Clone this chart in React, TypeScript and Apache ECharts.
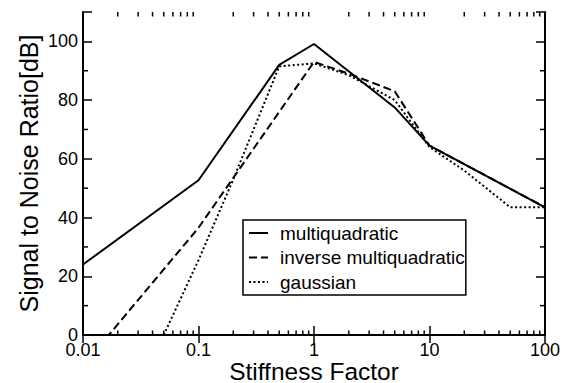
import React, { useEffect, useRef } from "react";
import * as echarts from "echarts";

// ---- data ----
const multiquadraticX = [0.01, 0.1, 0.5, 1, 5, 10, 100];
const multiquadraticY = [24, 52.7, 92, 99.1, 77.5, 64.5, 43.5];

const inverseX = [0.01, 0.1, 1, 2, 5, 10, 100];
const inverseY = [-10.5, 36.5, 93, 89, 83, 64.5, 43.5];

const gaussianX = [0.05, 0.1, 0.2, 0.5, 1, 2, 5, 10, 20, 50, 100];
const gaussianY = [0, 25.5, 53, 91.5, 92.5, 88.5, 80, 64, 56, 43.5, 43.5];

const seriesNames = ["multiquadratic", "inverse multiquadratic", "gaussian"];

const xMin = 0.01;
const xMax = 100;
const yMin = 0;
const yMax = 110;
const yMajorInterval = 20;

const xMinorTicks = [
  0.02, 0.03, 0.04, 0.05, 0.06, 0.07, 0.08, 0.09,
  0.2, 0.3, 0.4, 0.5, 0.6, 0.7, 0.8, 0.9,
  2, 3, 4, 5, 6, 7, 8, 9,
  20, 30, 40, 50, 60, 70, 80, 90,
];
const yMinorTicks = [10, 30, 50, 70, 90];

const FONT = "'Liberation Sans', Arial, Helvetica, sans-serif";

function pairs(xs: number[], ys: number[]) {
  return xs.map((x, i) => [x, ys[i]]);
}

export default function App() {
  const ref = useRef<HTMLDivElement>(null);

  useEffect(() => {
    if (!ref.current) return;
    const chart = echarts.init(ref.current, null, { renderer: "svg" });

    const tickStyle = { stroke: "#000", lineWidth: 1.5 };

    const option: any = {
      animation: false,
      backgroundColor: "#fff",
      textStyle: { fontFamily: FONT, color: "#000" },
      grid: {
        left: 83,
        right: 19,
        top: 12,
        bottom: 48,
        containLabel: false,
        outerBoundsMode: "none",
      },
      legend: {
        data: seriesNames,
        orient: "vertical",
        left: 243,
        top: 220,
        padding: [3, 1, 3, 5],
        itemGap: 4.5,
        itemWidth: 19,
        itemHeight: 12,
        borderColor: "#000",
        borderWidth: 1.5,
        backgroundColor: "#fff",
        itemStyle: { opacity: 0 },
        textStyle: {
          fontFamily: FONT,
          fontSize: 19,
          color: "#000",
          lineHeight: 20,
          padding: [0, 0, 0, 7],
        },
      },
      xAxis: [
        {
          type: "log",
          logBase: 10,
          min: xMin,
          max: xMax,
          position: "bottom",
          name: "Stiffness Factor",
          nameLocation: "middle",
          nameGap: 26,
          nameMoveOverlap: false,
          nameTextStyle: { fontFamily: FONT, fontSize: 24.5, lineHeight: 20, color: "#000" },
          axisLine: { show: true, lineStyle: { color: "#000", width: 2 } },
          axisTick: { show: true, inside: true, length: 9, lineStyle: { color: "#000", width: 1.5 } },
          axisLabel: {
            fontFamily: FONT,
            fontSize: 18,
            lineHeight: 16,
            color: "#000",
            margin: 7,
            formatter: (v: number) => String(v),
          },
          splitLine: { show: false },
          minorTick: { show: false },
        },
        {
          type: "log",
          logBase: 10,
          min: xMin,
          max: xMax,
          position: "top",
          axisLine: { show: true, lineStyle: { color: "#000", width: 2 } },
          axisTick: { show: true, inside: true, length: 8, lineStyle: { color: "#000", width: 1.5 } },
          axisLabel: { show: false },
          splitLine: { show: false },
        },
      ],
      yAxis: [
        {
          type: "value",
          min: yMin,
          max: yMax,
          interval: yMajorInterval,
          position: "left",
          name: "Signal to Noise Ratio[dB]",
          nameLocation: "middle",
          nameGap: 42,
          nameMoveOverlap: false,
          nameTextStyle: { fontFamily: FONT, fontSize: 25, color: "#000" },
          axisLine: { show: true, lineStyle: { color: "#000", width: 2 } },
          axisTick: { show: true, inside: true, length: 9, lineStyle: { color: "#000", width: 1.5 } },
          axisLabel: {
            fontFamily: FONT,
            fontSize: 18,
            color: "#000",
            margin: 5,
            formatter: (v: number) => (v > 100 ? "" : String(v)),
          },
          splitLine: { show: false },
        },
        {
          type: "value",
          min: yMin,
          max: yMax,
          interval: yMajorInterval,
          position: "right",
          axisLine: { show: true, lineStyle: { color: "#000", width: 2 } },
          axisTick: { show: true, inside: true, length: 9, lineStyle: { color: "#000", width: 1.5 } },
          axisLabel: { show: false },
          splitLine: { show: false },
        },
      ],
      series: [
        {
          name: seriesNames[0],
          type: "line",
          data: pairs(multiquadraticX, multiquadraticY),
          symbol: "none",
          clip: true,
          lineStyle: { color: "#000", width: 2, type: "solid" },
          itemStyle: { color: "#000" },
          z: 4,
        },
        {
          name: seriesNames[1],
          type: "line",
          data: pairs(inverseX, inverseY),
          symbol: "none",
          clip: true,
          lineStyle: { color: "#000", width: 2, type: [8, 4] },
          itemStyle: { color: "#000" },
          z: 3,
        },
        {
          name: seriesNames[2],
          type: "line",
          data: pairs(gaussianX, gaussianY),
          symbol: "none",
          clip: true,
          lineStyle: { color: "#000", width: 2, type: [2, 2.5] },
          itemStyle: { color: "#000" },
          z: 3,
        },
        {
          name: "xMinor",
          type: "custom",
          silent: true,
          data: xMinorTicks.map((v) => [v, yMin]),
          encode: { x: 0, y: 1 },
          renderItem: (_p: any, api: any) => {
            const v = api.value(0);
            const b = api.coord([v, yMin]);
            const t = api.coord([v, yMax]);
            return {
              type: "group",
              children: [
                { type: "line", shape: { x1: b[0], y1: b[1], x2: b[0], y2: b[1] - 4.5 }, style: tickStyle },
                { type: "line", shape: { x1: t[0], y1: t[1], x2: t[0], y2: t[1] + 4.5 }, style: tickStyle },
              ],
            };
          },
          z: 5,
        },
        {
          name: "yMinor",
          type: "custom",
          silent: true,
          data: yMinorTicks.map((v) => [xMin, v]),
          encode: { x: 0, y: 1 },
          renderItem: (_p: any, api: any) => {
            const v = api.value(1);
            const l = api.coord([xMin, v]);
            const r = api.coord([xMax, v]);
            return {
              type: "group",
              children: [
                { type: "line", shape: { x1: l[0], y1: l[1], x2: l[0] + 5, y2: l[1] }, style: tickStyle },
                { type: "line", shape: { x1: r[0], y1: r[1], x2: r[0] - 5, y2: r[1] }, style: tickStyle },
              ],
            };
          },
          z: 5,
        },
      ],
    };

    chart.setOption(option);
    return () => chart.dispose();
  }, []);

  return <div ref={ref} style={{ width: 564, height: 383, position: "absolute", left: 0, top: 0 }} />;
}
